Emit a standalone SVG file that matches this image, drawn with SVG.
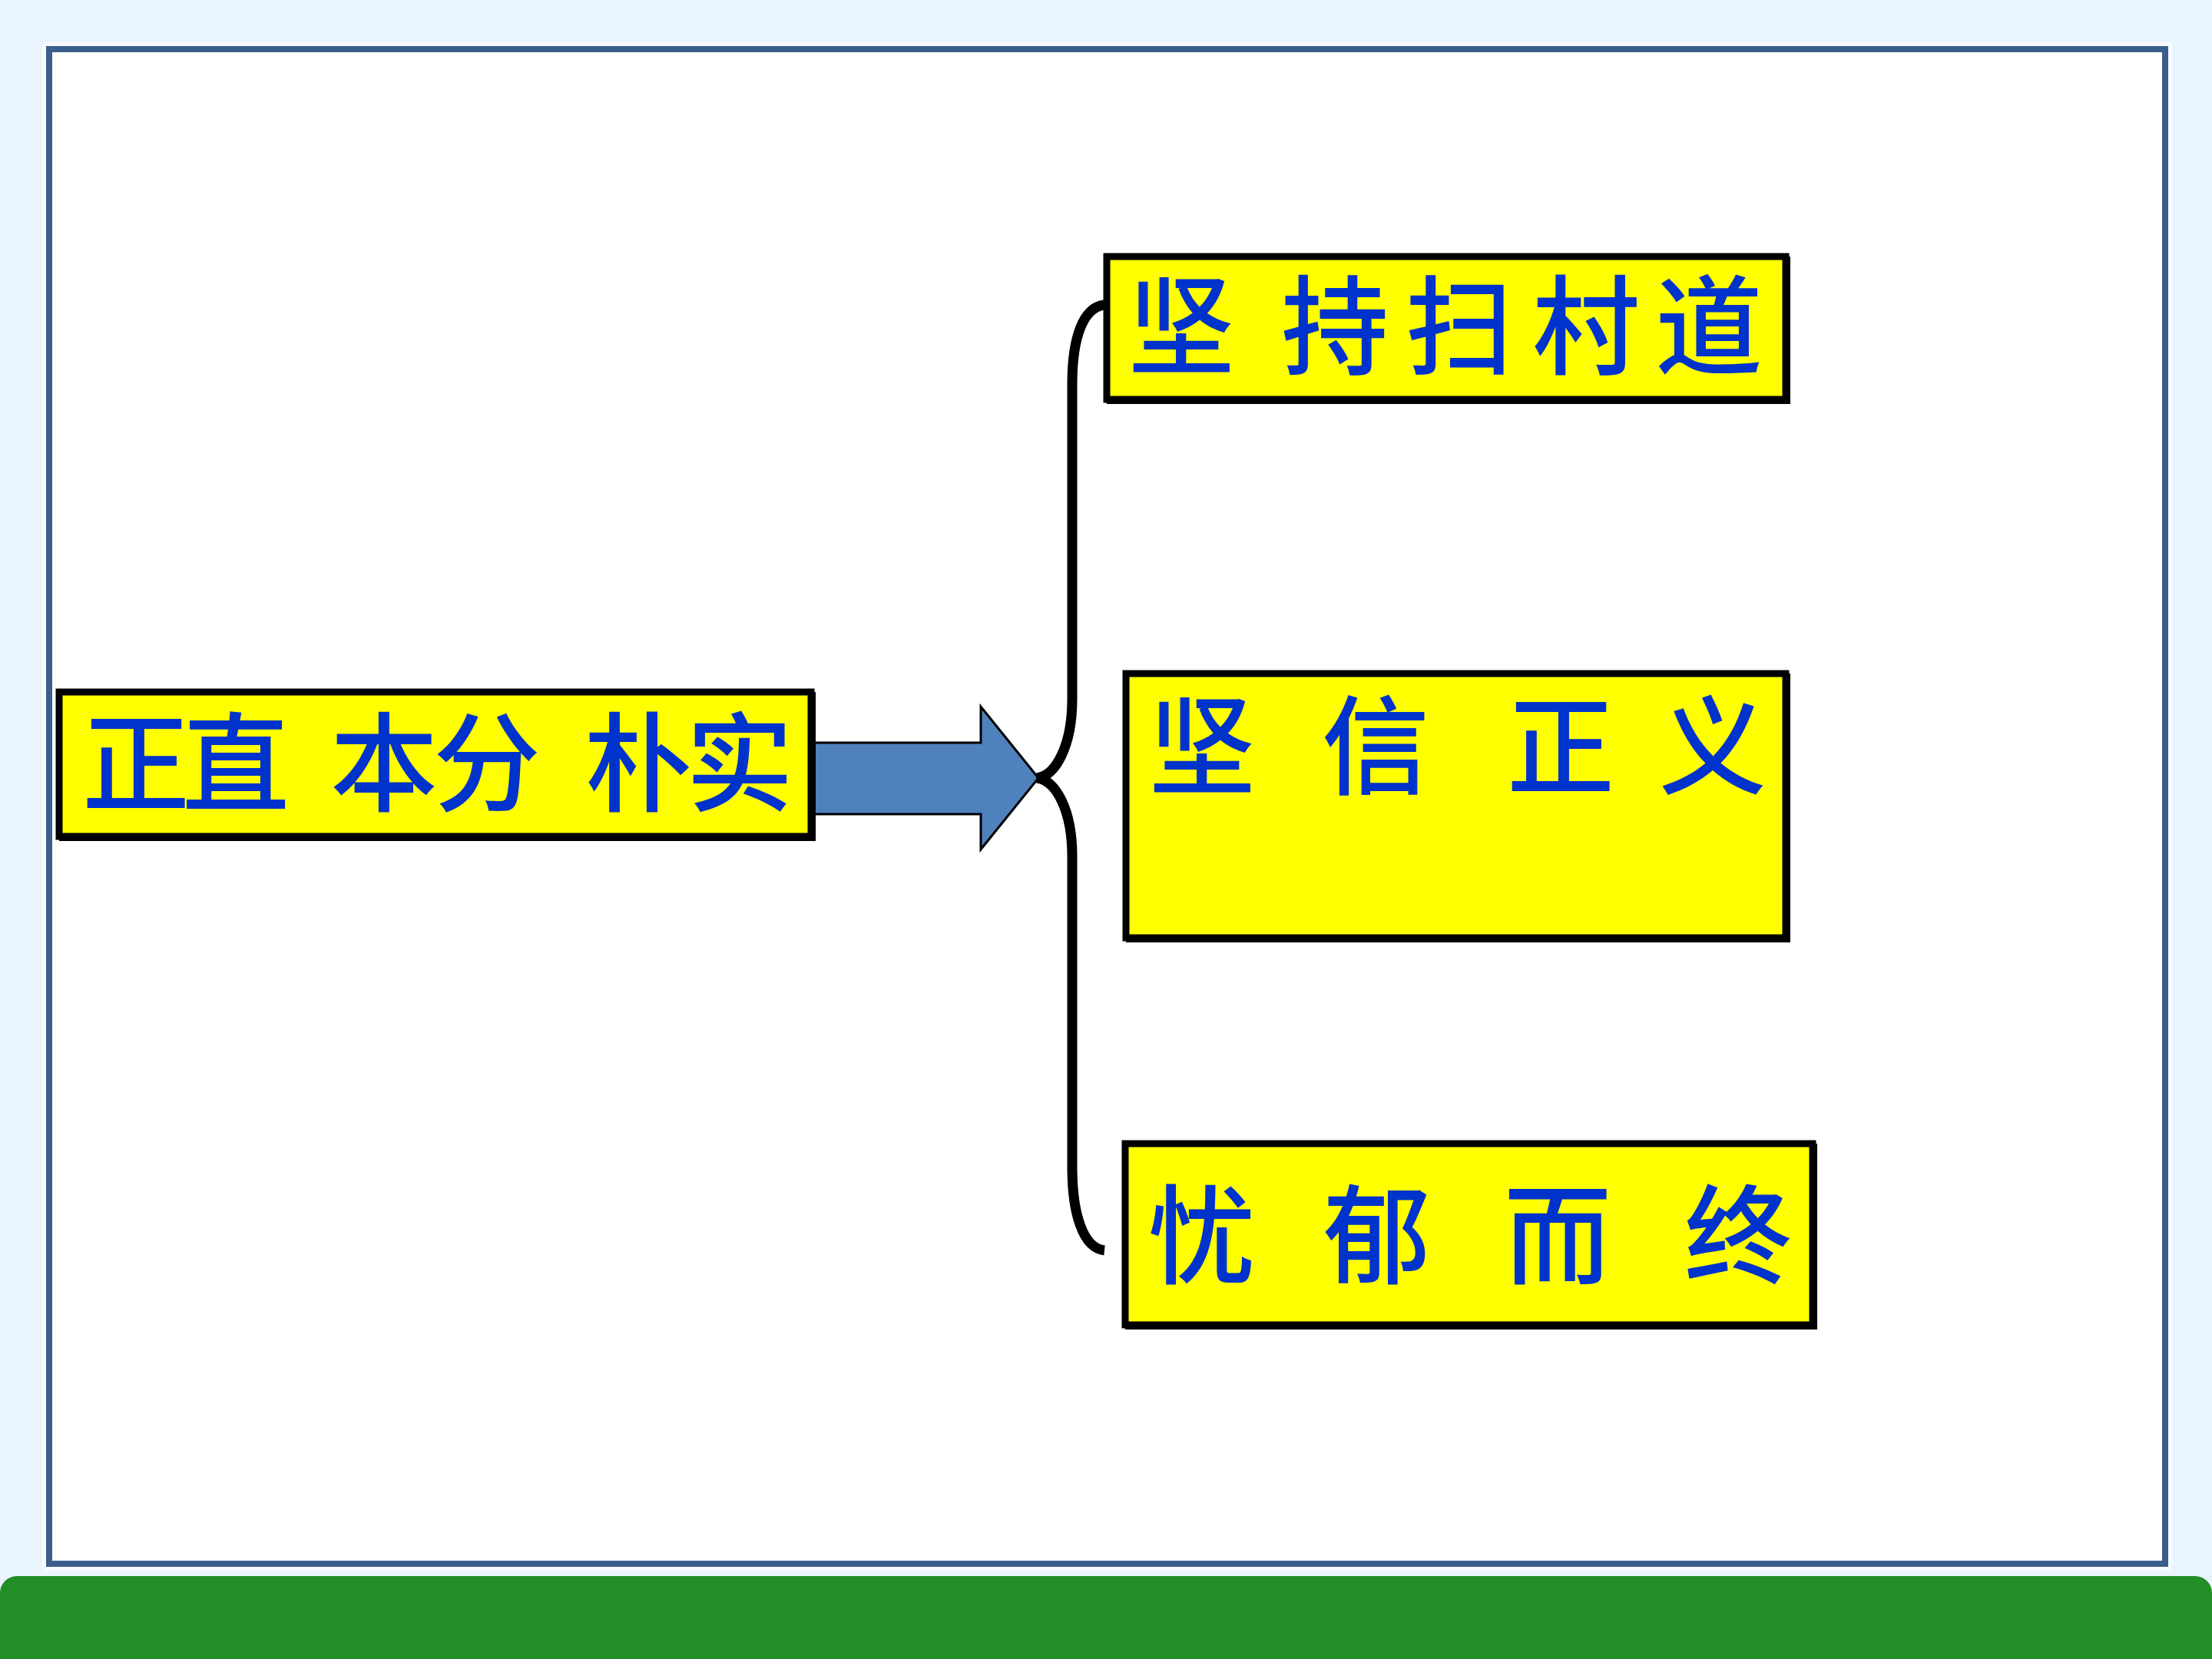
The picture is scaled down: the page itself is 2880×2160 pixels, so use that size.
<svg xmlns="http://www.w3.org/2000/svg" width="2880" height="2160" viewBox="0 0 2880 2160">
<defs>
<style>
.box{fill:#FFFF00;stroke:#000;stroke-width:9}
.shadow{fill:#000}
.lbl{font-family:"Noto Sans CJK SC","Noto Sans CJK TC",sans-serif;font-size:140px;font-weight:500;fill:#0033CC}
</style>
</defs>
<rect x="0" y="0" width="2880" height="2160" fill="#EAF4FD"/>
<rect x="58" y="58" width="2767" height="1984" fill="none" stroke="#F6FAFE" stroke-width="6"/>
<rect x="64" y="64" width="2755" height="1972" fill="#FFFFFF" stroke="#3B5E8C" stroke-width="8"/>
<rect x="0" y="2052" width="2880" height="140" rx="22" ry="22" fill="#238E25"/>
<g id="connectors">
<polygon points="1056,967 1277,967 1277,920 1352,1013 1277,1106 1277,1060 1056,1060" fill="#4F81BD" stroke="#000" stroke-width="3" stroke-linejoin="miter"/>
<path d="M1438,397 C1410,400 1396,440 1396,500 L1396,910 C1396,970 1375,1010 1350,1013 C1375,1016 1396,1055 1396,1115 L1396,1520 C1396,1580 1410,1625 1438,1628" fill="none" stroke="#000" stroke-width="13"/>
</g>
<g id="node-left">
<rect class="shadow" x="77" y="901" width="985" height="194"/>
<rect class="box" x="77" y="901" width="979" height="188"/>
<text class="lbl" x="107 237 370 430 564 700 761 893" y="1045">正直 本分 朴实</text>
</g>
<g id="node-top">
<rect class="shadow" x="1441" y="334" width="890" height="192"/>
<rect class="box" x="1441" y="334" width="884" height="186"/>
<text class="lbl" x="1468 1610 1668 1830 1995 2155" y="476">坚 持扫村道</text>
</g>
<g id="node-middle">
<rect class="shadow" x="1466" y="877" width="865" height="350"/>
<rect class="box" x="1466" y="877" width="859" height="344"/>
<text class="lbl" x="1495 1640 1721 1880 1962 2100 2160" y="1023">坚 信 正 义</text>
</g>
<g id="node-bottom">
<rect class="shadow" x="1465" y="1489" width="901" height="242"/>
<rect class="box" x="1465" y="1489" width="895" height="236"/>
<text class="lbl" x="1495 1640 1723 1880 1958 2110 2193" y="1660">忧 郁 而 终</text>
</g>
</svg>
